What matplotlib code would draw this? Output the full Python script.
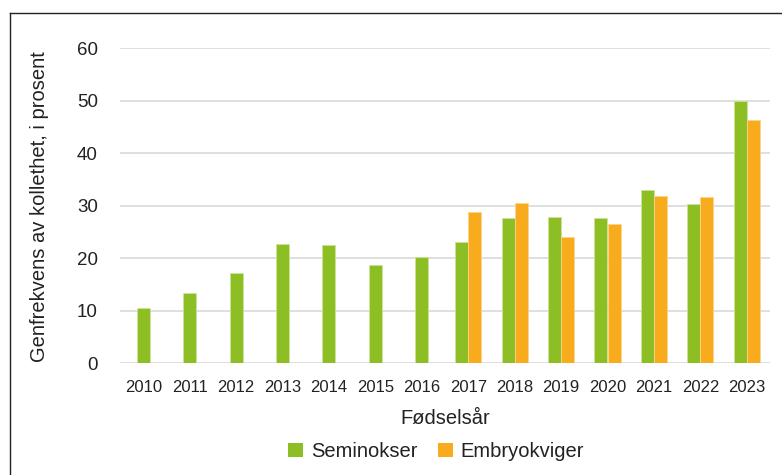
import numpy as np
import matplotlib
matplotlib.use("Agg")
import matplotlib.pyplot as plt
from matplotlib.lines import Line2D
from matplotlib.patches import Patch

plt.rcParams['font.family'] = ['Liberation Sans', 'DejaVu Sans']

years = ["2010", "2011", "2012", "2013", "2014", "2015", "2016",
         "2017", "2018", "2019", "2020", "2021", "2022", "2023"]
seminokser = [10.5, 13.3, 17.2, 22.7, 22.5, 18.7, 20.3,
              23.1, 27.6, 27.8, 27.6, 33.0, 30.3, 50.0]
embryokviger = [np.nan, np.nan, np.nan, np.nan, np.nan, np.nan, np.nan,
                28.8, 30.5, 24.1, 26.5, 31.9, 31.7, 46.3]

green = '#8DBE24'
orange = '#F8AC1D'
txt = '#222222'

W, H = 782, 475
fig = plt.figure(figsize=(W / 100, H / 100), dpi=100)
ax = fig.add_axes([120 / W, 1 - 363.3 / H, 650 / W, (363.3 - 48.3) / H])

x = np.arange(len(years))
bw = 0.28
s = np.array(seminokser, dtype=float)
e = np.array(embryokviger, dtype=float)
has_e = ~np.isnan(e)
xs = np.where(has_e, x - bw / 2, x)
ax.bar(xs, s, width=bw, color=green, edgecolor='#c9e39a', linewidth=0.6, zorder=3)
ax.bar(x[has_e] + bw / 2, e[has_e], width=bw, color=orange, edgecolor='#fbd48c',
       linewidth=0.6, zorder=3)

ax.set_xlim(-0.5, len(years) - 0.5)
ax.set_ylim(0, 60)
ax.set_yticks(np.arange(0, 61, 10))
ax.set_xticks(x)
ax.set_xticklabels(years)
ax.grid(axis='y', color='#d9d9d9', linewidth=1.2, zorder=0)
for sp in ax.spines.values():
    sp.set_visible(False)
ax.tick_params(axis='both', length=0, colors=txt)
ax.tick_params(axis='y', labelsize=13.5, pad=16)
ax.tick_params(axis='x', labelsize=12, pad=12)

fig.text(445 / W, 1 - 419 / H, "Fødselsår", ha='center', va='center',
         fontsize=14.5, color=txt)
fig.text(40 / W, 1 - 207 / H, "Genfrekvens av kollethet, i prosent", ha='center',
         va='center', rotation=90, fontsize=14.5, color=txt)

handles = [Patch(facecolor=green, edgecolor='none'), Patch(facecolor=orange, edgecolor='none')]
fig.legend(handles, ["Seminokser", "Embryokviger"], loc='center',
           bbox_to_anchor=(436 / W, 1 - 451.5 / H), ncol=2, frameon=False,
           fontsize=14.5, handlelength=0.75, handleheight=0.75, handletextpad=0.4,
           columnspacing=1.0, labelcolor=txt)

# partial frame (top and left)
fig.add_artist(Line2D([10 / W, 1], [1 - 13 / H, 1 - 13 / H], color='#222222',
                      linewidth=1.0, transform=fig.transFigure))
fig.add_artist(Line2D([10 / W, 10 / W], [0, 1 - 13 / H], color='#222222',
                      linewidth=1.0, transform=fig.transFigure))

fig.savefig("out.png", dpi=100)
